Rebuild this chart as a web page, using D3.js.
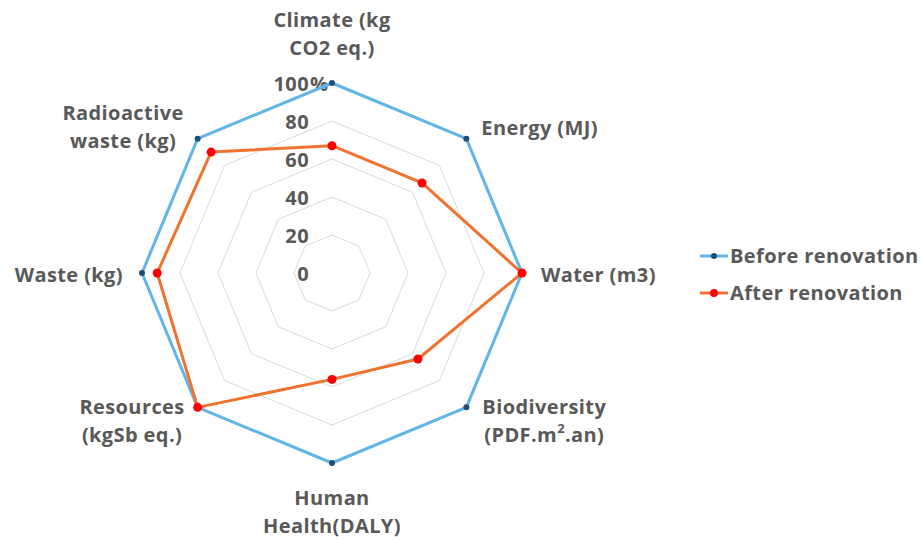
<!DOCTYPE html>
<html>
<head>
<meta charset="utf-8">
<script src="https://cdn.jsdelivr.net/npm/d3@7"></script>
<style>
  body { margin: 0; background: #fff; }
  svg text { font-family: "Open Sans", "Liberation Sans", sans-serif; font-weight: 700; fill: #595959; letter-spacing: 0.4px; }
</style>
</head>
<body>
<svg id="radar" width="921" height="540"></svg>
<script>
// chart values
var categories = [
    ["Climate (kg", "CO2 eq.)"],
    ["Energy (MJ)"],
    ["Water (m3)"],
    ["Biodiversity", "(PDF.m\u00B2.an)"],
    ["Human", "Health(DALY)"],
    ["Resources", "(kgSb eq.)"],
    ["Waste (kg)"],
    ["Radioactive", "waste (kg)"]
];
var seriesNames = ["Before renovation", "After renovation"];
var beforeValues = [100, 100, 100, 100, 100, 100, 100, 100];
var afterValues = [67, 67, 100, 64, 56, 100, 92, 90];
var tickValues = [0, 20, 40, 60, 80, 100];

var svg = d3.select("svg#radar");
var cx = 332, cy = 273, R = 190, fs = 20;
var r = d3.scaleLinear().domain([0, 100]).range([0, R]);
var n = categories.length;
var angle = function (i) { return i * 2 * Math.PI / n; };
var pt = function (i, v) {
    return [cx + r(v) * Math.sin(angle(i)), cy - r(v) * Math.cos(angle(i))];
};

// grid rings
var g = svg.append("g");
tickValues.filter(function (t) { return t > 0; }).forEach(function (t) {
    g.append("path")
        .attr("fill", "none")
        .attr("stroke", "#d9d9d9")
        .attr("stroke-width", 1)
        .attr("d", d3.line()(d3.range(n).map(function (i) { return pt(i, t); })) + "Z");
});

// tick labels
tickValues.forEach(function (t) {
    var y = cy - r(t) + 8;
    g.append("text").attr("x", 309).attr("y", y)
        .attr("text-anchor", "end").attr("font-size", fs)
        .text(t);
    if (t === 100) {
        g.append("text").attr("x", 310).attr("y", y)
            .attr("font-size", fs).text("%");
    }
});

// series
function drawSeries(values, lineColor, dotColor, dotR) {
    var pts = values.map(function (v, i) { return pt(i, v); });
    g.append("path")
        .attr("fill", "none")
        .attr("stroke", lineColor)
        .attr("stroke-width", 3)
        .attr("stroke-linejoin", "round")
        .attr("d", d3.line()(pts) + "Z");
    g.selectAll(null).data(pts).enter().append("circle")
        .attr("cx", function (d) { return d[0]; })
        .attr("cy", function (d) { return d[1]; })
        .attr("r", dotR)
        .attr("fill", dotColor);
}
drawSeries(beforeValues, "#62b5e8", "#1f4e79", 3);
drawSeries(afterValues, "#f0722f", "#ff0000", 4.5);

// category labels: [dx, dy, align] relative to outer point
var labelLayout = [
    [0, -56, "middle"],
    [15, -4, "start"],
    [19, 9, "start"],
    [16, 7, "start"],
    [0, 42, "middle"],
    [-13, 7, "end"],
    [-19, 9, "end"],
    [-14, -19, "end"]
];
categories.forEach(function (lines, i) {
    var p = pt(i, 100), lay = labelLayout[i];
    var t = g.append("text").attr("font-size", fs);
    lines.forEach(function (s, k) {
        var tsp = t.append("tspan").attr("y", p[1] + lay[1] + k * 28);
        if (s.indexOf("\u00B2") >= 0) {
            var parts = s.split("\u00B2");
            tsp.text(parts[0]);
            t.append("tspan").attr("dy", -9).attr("font-size", 13).text("2");
            t.append("tspan").attr("dy", 9).text(parts[1]);
        } else {
            tsp.text(s);
        }
    });
    // center lines inside the block
    var nodes = t.node().childNodes;
    var lineNodes = [];
    var cur = -1;
    for (var k = 0; k < nodes.length; k++) {
        if (nodes[k].hasAttribute("y")) { cur += 1; lineNodes[cur] = []; }
        lineNodes[cur].push(nodes[k]);
    }
    var widths = lineNodes.map(function (arr) {
        return d3.sum(arr, function (nd) { return nd.getComputedTextLength(); });
    });
    var maxW = d3.max(widths);
    var left = lay[2] === "start" ? p[0] + lay[0]
        : lay[2] === "end" ? p[0] + lay[0] - maxW
        : p[0] + lay[0] - maxW / 2;
    lineNodes.forEach(function (arr, k) {
        d3.select(arr[0]).attr("x", left + (maxW - widths[k]) / 2);
    });
});

// legend
var legend = svg.append("g").attr("transform", "translate(700,256)");
[["#62b5e8", "#1f4e79", 3], ["#f0722f", "#ff0000", 4]].forEach(function (c, i) {
    var lg = legend.append("g").attr("transform", "translate(0," + (i * 37) + ")");
    lg.append("line").attr("x1", 0).attr("x2", 28).attr("y1", 0).attr("y2", 0)
        .attr("stroke", c[0]).attr("stroke-width", 3);
    lg.append("circle").attr("cx", 14).attr("cy", 0).attr("r", c[2]).attr("fill", c[1]);
    lg.append("text").attr("x", 30).attr("y", 7).attr("font-size", fs).text(seriesNames[i]);
});
</script>
</body>
</html>
